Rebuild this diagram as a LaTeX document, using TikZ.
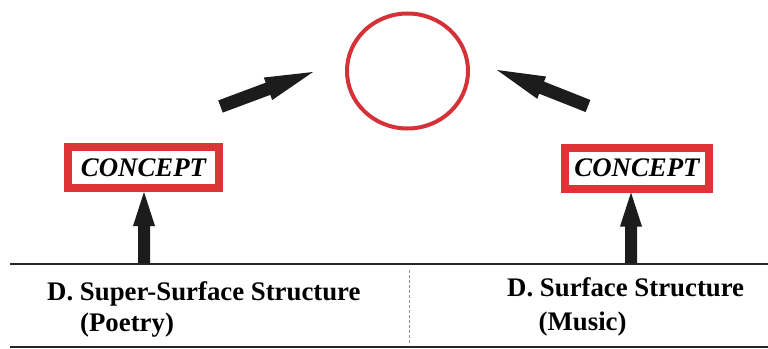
\documentclass[tikz,border=0pt]{standalone}
\usepackage{fontspec}
\setmainfont{Liberation Serif}
\usetikzlibrary{calc,shapes.geometric}
\definecolor{boxred}{RGB}{222,52,56}
\definecolor{circred}{RGB}{212,50,56}
\definecolor{ink}{RGB}{28,28,28}
% #1 from, #2 to, #3 half shaft width, #4 half head width, #5 head length
\newcommand\fatarrow[5]{%
  \fill[ink] let \p1=(#1), \p2=(#2),
    \n1={atan2(\y2-\y1,\x2-\x1)}, \n2={veclen(\x2-\x1,\y2-\y1)} in
    [shift={(\p1)},rotate=\n1]
    (0pt,-#3pt) -- ({\n2-#5pt},-#3pt) -- ({\n2-#5pt},-#4pt) -- (\n2,0pt)
    -- ({\n2-#5pt},#4pt) -- ({\n2-#5pt},#3pt) -- (0pt,#3pt) -- cycle;}
\tikzset{
  conceptbox/.style={draw=boxred, line width=8pt, fill=white, rectangle, inner sep=0pt,
    minimum height=41pt, font=\fontsize{26.8}{30}\selectfont\bfseries\itshape},
  lbl/.style={anchor=base west, inner sep=0pt, font=\fontsize{26.8}{30}\selectfont\bfseries},
  rule/.style={draw=black!85, line width=2pt},
}
\begin{document}
\begin{tikzpicture}[x=1pt,y=-1pt]
\useasboundingbox (0,0) rectangle (768,348);
% ground lines
\coordinate (l0) at (10,264); \coordinate (l1) at (768,264);
\coordinate (m0) at (10,347); \coordinate (m1) at (768,347);
\coordinate (d0) at (409,270); \coordinate (d1) at (409,345);
\draw[rule] (l0) -- (l1);
\draw[rule] (m0) -- (m1);
\draw[black!45, line width=1pt, dash pattern=on 3pt off 2pt] (d0) -- (d1);
% circle
\node[draw=circred, line width=4pt, ellipse, minimum width=121pt, minimum height=115pt, inner sep=0pt] (o) at (407.5,71) {};
% concept boxes
\node[conceptbox, minimum width=151pt] (c1) at (143.5,167.5) {CONCEPT};
\node[conceptbox, minimum width=144pt] (c2) at (637,168) {CONCEPT};
% vertical arrows
\coordinate (b1) at (144,263);
\coordinate (b2) at (631,263);
\coordinate (e1) at (b1 |- c1.south);
\coordinate (e2) at (b2 |- c2.south);
\fatarrow{b1}{e1}{6}{11}{34}
\fatarrow{b2}{e2}{6}{11}{34}
% diagonal arrows
\coordinate (a1t) at (220.5,106.5); \coordinate (a1h) at (313,72);
\coordinate (a2t) at (588,106);     \coordinate (a2h) at (497,70);
\fatarrow{a1t}{a1h}{6.5}{12}{48}
\fatarrow{a2t}{a2h}{6.5}{12}{48}
% labels
\node[lbl] (t1) at (47,300) {D. Super-Surface Structure};
\node[lbl] (t2) at (80,331.5) {(Poetry)};
\node[lbl] (t3) at (507,296) {D. Surface Structure};
\node[lbl] (t4) at (538.5,330) {(Music)};
\end{tikzpicture}
\end{document}
